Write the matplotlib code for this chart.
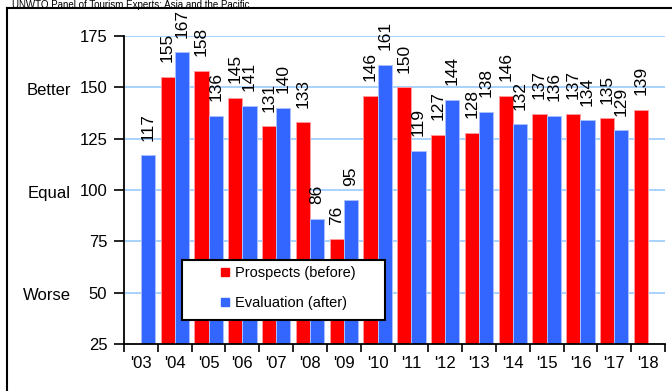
import matplotlib
matplotlib.use("Agg")
import matplotlib.pyplot as plt
import numpy as np
from matplotlib.lines import Line2D
from matplotlib.patches import Rectangle
from matplotlib.transforms import blended_transform_factory

# ---- data -------------------------------------------------------------
years = ["'03", "'04", "'05", "'06", "'07", "'08", "'09", "'10",
         "'11", "'12", "'13", "'14", "'15", "'16", "'17", "'18"]
prospects = [None, 155, 158, 145, 131, 133, 76, 146,
             150, 127, 128, 146, 137, 137, 135, 139]
evaluation = [117, 167, 136, 141, 140, 86, 95, 161,
              119, 144, 138, 132, 136, 134, 129, None]
y_ticks = [25, 50, 75, 100, 125, 150, 175]
side_labels = {150: "Better", 100: "Equal", 50: "Worse"}
series_names = ["Prospects (before)", "Evaluation (after)"]
title = "UNWTO Panel of Tourism Experts: Asia and the Pacific"

# ---- style ------------------------------------------------------------
plt.rcParams["font.family"] = ["Liberation Sans", "DejaVu Sans"]
RED, BLUE = "#FF0000", "#3366FF"
RED_EDGE, BLUE_EDGE = "#FF9A9A", "#A9BFFF"
GRID = "#99CCFF"
NARROW = ["Liberation Sans Narrow", "Liberation Sans", "DejaVu Sans"]

W, H = 672, 391
fig = plt.figure(figsize=(W / 100, H / 100), dpi=100)
ax = fig.add_axes([124 / W, 1 - 344 / H, (665 - 124) / W, (344 - 36) / H])

x = np.arange(len(years))
bw = 0.42
off = 0.21


def draw_series(values, shift, color, edge):
    idx = [i for i, v in enumerate(values) if v is not None]
    vals = [values[i] for i in idx]
    pos = x[idx] + shift
    ax.bar(pos, [v - y_ticks[0] for v in vals], bottom=y_ticks[0], width=bw,
           color=color, edgecolor=edge, linewidth=0.7, zorder=2)
    for p, v in zip(pos, vals):
        ax.annotate(str(v), (p, v), xytext=(0, 10.5), textcoords="offset points",
                    rotation=90, ha="center", va="bottom", fontsize=12.5,
                    family=NARROW, color="black", zorder=3)


draw_series(prospects, -off, RED, RED_EDGE)
draw_series(evaluation, off, BLUE, BLUE_EDGE)

# axes, ticks and grid
ax.set_xlim(-0.5, len(years) - 0.5)
ax.set_ylim(y_ticks[0], y_ticks[-1])
ax.set_yticks(y_ticks)
ax.tick_params(axis="y", labelsize=12, length=7, width=1.2, pad=5, direction="out")
ax.set_xticks(np.arange(-0.5, len(years), 1.0))
ax.set_xticklabels([""] * (len(years) + 1))
ax.set_xticks(x, minor=True)
ax.set_xticklabels(years, minor=True)
ax.tick_params(axis="x", which="major", length=6, width=1.2, direction="out")
ax.tick_params(axis="x", which="minor", length=0, labelsize=12, pad=9)
for s in ("top", "right"):
    ax.spines[s].set_visible(False)
for s in ("left", "bottom"):
    ax.spines[s].set_linewidth(1.3)
ax.set_axisbelow(True)
for yv in y_ticks[1:]:
    ax.axhline(yv, color=GRID, linewidth=1.2, zorder=0)

# qualitative labels left of the value axis
trans = blended_transform_factory(fig.transFigure, ax.transData)
for yv, txt in side_labels.items():
    ax.text(71 / W, yv - 1.5, txt, transform=trans, ha="right", va="center",
            fontsize=12, clip_on=False)

# outer frame and heading
fig.add_artist(Line2D([7 / W, 7 / W], [0, 1 - 8 / H], color="black",
                      linewidth=1.5, transform=fig.transFigure))
fig.add_artist(Line2D([7 / W, 1], [1 - 8 / H, 1 - 8 / H], color="black",
                      linewidth=1.5, transform=fig.transFigure))
fig.text(12 / W, 1 - 0.5 / H, title, ha="left", va="top", fontsize=7)

# legend box
fig.add_artist(Rectangle((182 / W, 1 - 320 / H), 203 / W, 60 / H,
                         transform=fig.transFigure, facecolor="white",
                         edgecolor="black", linewidth=1.5, zorder=4))
handles = [Line2D([], [], marker="s", linestyle="none", color=RED, markersize=6),
           Line2D([], [], marker="s", linestyle="none", color=BLUE, markersize=6)]
fig.legend(handles, series_names, loc="upper left",
           bbox_to_anchor=(220 / W, 1 - 266 / H), frameon=False, borderpad=0,
           borderaxespad=0, handlelength=0.7, handletextpad=0.3,
           labelspacing=1.1, fontsize=10.5)

fig.savefig("out.png", dpi=100)
